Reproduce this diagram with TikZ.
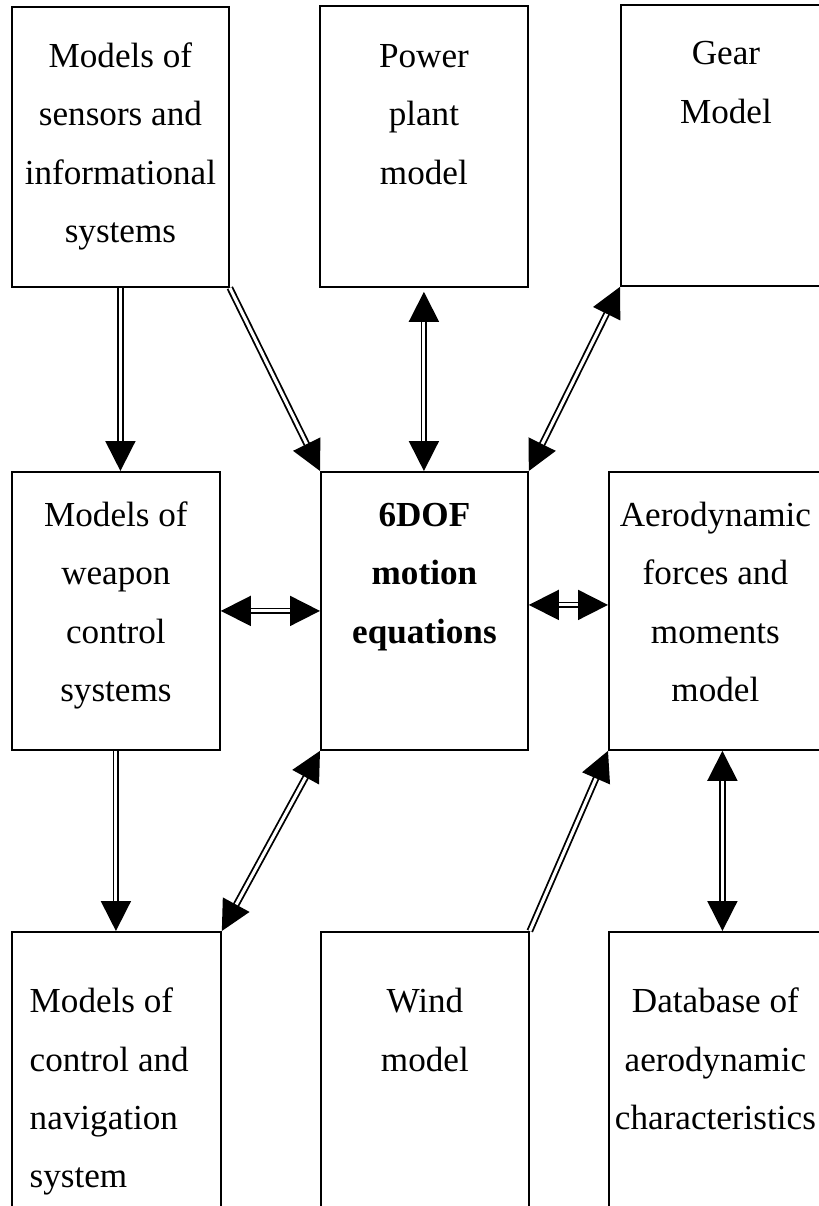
\documentclass[tikz,border=0pt]{standalone}
\usepackage{fontspec}
\setmainfont{Liberation Serif}
\usetikzlibrary{positioning,arrows.meta}

\begin{document}
\begin{tikzpicture}[x=0.25mm,y=-0.25mm,
    block/.style={draw,rectangle,line width=1.3pt,anchor=north west,inner sep=0pt},
    boxtext/.style={anchor=north,inner sep=0pt,align=center,font=\fontsize{25}{41.5}\selectfont},
    link/.style={double,double distance=2.2pt,line width=1.3pt,-{Triangle[length=7.5mm,width=7.5mm]}},
    twolink/.style={link,{Triangle[length=7.5mm,width=7.5mm]}-{Triangle[length=7.5mm,width=7.5mm]}}]
    \useasboundingbox (0,0) rectangle (819,1206);
    \clip (0,0) rectangle (819,1206);
    %% Top row
    \node[block,minimum width=54.25mm,minimum height=70mm] (sens) at (11,6) {};
    \node[block,minimum width=52mm,minimum height=70.25mm] (power) at (319,5) {};
    \node[block,minimum width=52.5mm,minimum height=70.25mm] (gear) at (620,4) {};
    %% Middle row
    \node[block,minimum width=52mm,minimum height=69.5mm] (weapon) at (11,471) {};
    \node[block,minimum width=51.75mm,minimum height=69.5mm] (dof) at (320,471) {};
    \node[block,minimum width=53.25mm,minimum height=69.5mm] (aero) at (608,471) {};
    %% Bottom row
    \node[block,minimum width=52.25mm,minimum height=75mm] (ctrl) at (11,931) {};
    \node[block,minimum width=52mm,minimum height=75mm] (wind) at (320,931) {};
    \node[block,minimum width=53.25mm,minimum height=75mm] (db) at (608,931) {};
    %% Texts
    \node[boxtext,below=5.1mm of sens.north] (sens-txt) {\strut Models of\\sensors and\\informational\\systems};
    \node[boxtext,below=5.3mm of power.north] (power-txt) {\strut Power\\plant\\model};
    \node[boxtext,below=4.9mm of gear.north] (gear-txt) {\strut Gear\\Model};
    \node[boxtext,below=3.6mm of weapon.north] (weapon-txt) {\strut Models of\\weapon\\control\\systems};
    \node[boxtext,font=\fontsize{25}{41.5}\selectfont\bfseries,below=3.6mm of dof.north] (dof-txt) {\strut 6DOF\\motion\\equations};
    \node[boxtext,below=3.6mm of aero.north] (aero-txt) {\strut Aerodynamic\\forces and\\moments\\model};
    \node[boxtext,align=left,below right=10.2mm and 4.6mm of ctrl.north west] (ctrl-txt) {\strut Models of\\control and\\navigation\\system};
    \node[boxtext,below=10.2mm of wind.north] (wind-txt) {\strut Wind\\model};
    \node[boxtext,below=10.2mm of db.north] (db-txt) {\strut Database of\\aerodynamic\\characteristics};
    %% Links
    \draw[link] (sens.south) -- (sens.south |- weapon.north);
    \draw[link] (sens.south east) -- (dof.north west);
    \draw[twolink,shorten <=1mm] (power.south) -- (power.south |- dof.north);
    \draw[twolink] (dof.north east) -- (gear.south west);
    \draw[twolink] (weapon.east) -- (dof.west);
    \draw[twolink] ([yshift=1.5mm]dof.east) -- ([yshift=1.5mm]aero.west);
    \draw[twolink] (ctrl.north east) -- (dof.south west);
    \draw[link] (wind.north east) -- (aero.south west);
    \draw[twolink] ([xshift=1.75mm]aero.south) -- ([xshift=1.75mm]db.north);
    \draw[link] (weapon.south) -- (weapon.south |- ctrl.north);
\end{tikzpicture}
\end{document}
